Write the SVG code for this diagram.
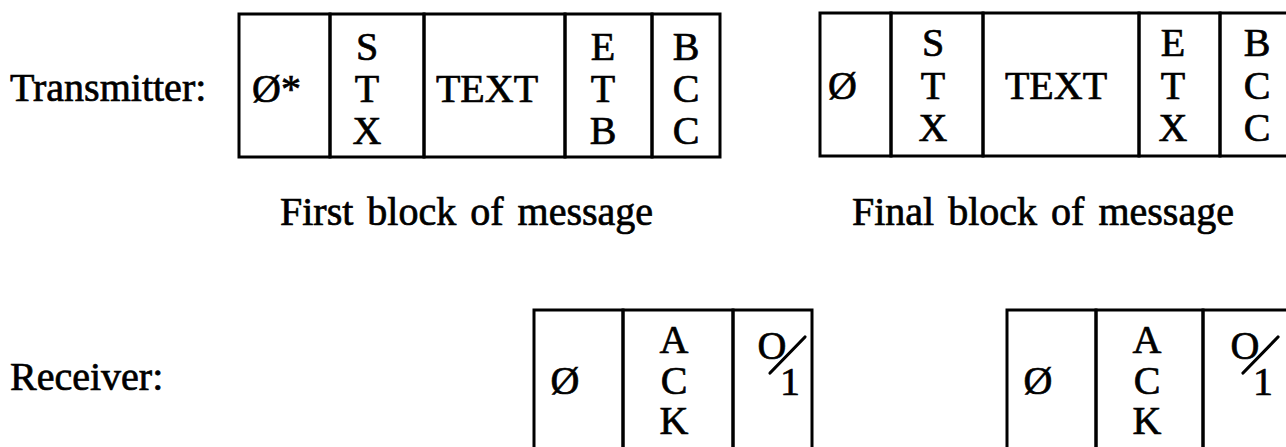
<svg xmlns="http://www.w3.org/2000/svg" width="1286" height="447" viewBox="0 0 1286 447">
<style>
.c { fill: none; stroke: #000; stroke-width: 3; }
.t { font-family: "Liberation Serif", "Times New Roman", serif; font-size: 40px; fill: #000; stroke: #000; stroke-width: 0.7px; }
.m { text-anchor: middle; }
.sl { stroke: #000; stroke-width: 3.2; stroke-linecap: round; }
</style>
<rect x="0" y="0" width="1286" height="447" fill="#fff"/>
<g id="labels">
  <text class="t" x="10" y="101">Transmitter:</text>
  <text class="t" x="10" y="390">Receiver:</text>
  <text class="t" x="280" y="225" word-spacing="4">First block of message</text>
  <text class="t" x="852" y="225" word-spacing="4">Final block of message</text>
</g>
<g id="block-first">
  <rect class="c" x="239" y="14" width="91" height="143"/>
  <rect class="c" x="330" y="14" width="94" height="143"/>
  <rect class="c" x="424" y="14" width="141" height="143"/>
  <rect class="c" x="565" y="14" width="87" height="143"/>
  <rect class="c" x="652" y="14" width="68" height="143"/>
  <text class="t" x="252" y="102">Ø*</text>
  <text class="t m" x="367" y="60">S</text>
  <text class="t m" x="367" y="102">T</text>
  <text class="t m" x="367" y="144">X</text>
  <text class="t m" x="487" y="102">TEXT</text>
  <text class="t m" x="603" y="60">E</text>
  <text class="t m" x="603" y="102">T</text>
  <text class="t m" x="603" y="144">B</text>
  <text class="t m" x="686" y="60">B</text>
  <text class="t m" x="686" y="102">C</text>
  <text class="t m" x="686" y="144">C</text>
</g>
<g id="block-final">
  <rect class="c" x="820" y="13" width="71" height="143"/>
  <rect class="c" x="891" y="13" width="92" height="143"/>
  <rect class="c" x="983" y="13" width="156" height="143"/>
  <rect class="c" x="1139" y="13" width="81" height="143"/>
  <rect class="c" x="1220" y="13" width="80" height="143"/>
  <text class="t" x="828" y="99">Ø</text>
  <text class="t m" x="933" y="56">S</text>
  <text class="t m" x="933" y="99">T</text>
  <text class="t m" x="933" y="141">X</text>
  <text class="t m" x="1056" y="99">TEXT</text>
  <text class="t m" x="1173" y="56">E</text>
  <text class="t m" x="1173" y="99">T</text>
  <text class="t m" x="1173" y="141">X</text>
  <text class="t m" x="1257" y="56">B</text>
  <text class="t m" x="1257" y="99">C</text>
  <text class="t m" x="1257" y="141">C</text>
</g>
<g id="ack-first">
  <rect class="c" x="534" y="310" width="89" height="150"/>
  <rect class="c" x="623" y="310" width="110" height="150"/>
  <rect class="c" x="733" y="310" width="79" height="150"/>
  <text class="t m" x="565" y="394">Ø</text>
  <text class="t m" x="674" y="353">A</text>
  <text class="t m" x="674" y="394">C</text>
  <text class="t m" x="674" y="434">K</text>
  <text class="t m" x="772" y="359">O</text>
  <line class="sl" x1="770" y1="373" x2="805" y2="337"/>
  <text class="t m" x="790" y="395">1</text>
</g>
<g id="ack-final">
  <rect class="c" x="1007" y="310" width="89" height="150"/>
  <rect class="c" x="1096" y="310" width="107" height="150"/>
  <rect class="c" x="1203" y="310" width="100" height="150"/>
  <text class="t m" x="1038" y="394">Ø</text>
  <text class="t m" x="1147" y="353">A</text>
  <text class="t m" x="1147" y="394">C</text>
  <text class="t m" x="1147" y="434">K</text>
  <text class="t m" x="1245" y="359">O</text>
  <line class="sl" x1="1243" y1="373" x2="1278" y2="337"/>
  <text class="t m" x="1263" y="395">1</text>
</g>
<g id="connectors"/>
</svg>
